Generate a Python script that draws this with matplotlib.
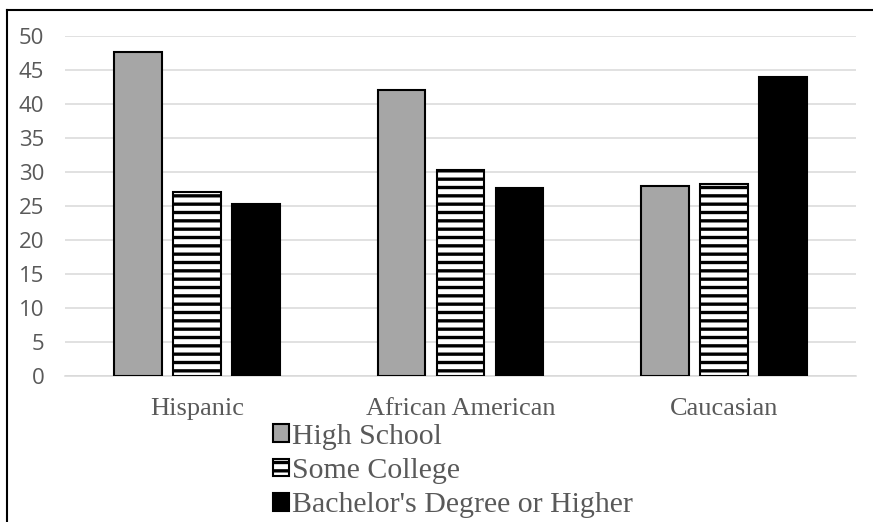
import matplotlib.pyplot as plt
import numpy as np
from matplotlib.lines import Line2D

# Share of each group by highest education level (%)
groups = ['Hispanic', 'African American', 'Caucasian']
high_school = [47.7, 42.0, 27.9]
some_college = [27.0, 30.3, 28.2]
bachelor_plus = [25.2, 27.7, 44.0]
series_names = ['High School', 'Some College', "Bachelor's Degree or Higher"]
y_ticks = [0, 5, 10, 15, 20, 25, 30, 35, 40, 45, 50]

plt.rcParams['hatch.linewidth'] = 2.4

fig = plt.figure(figsize=(8.73, 5.22), dpi=100)
ax = fig.add_axes([65 / 873, 1 - 375.7 / 522, (856 - 65) / 873, (375.7 - 36) / 522])

x = np.arange(len(groups))
width = 0.18
step = 0.224
styles = [
    dict(color='#A6A6A6', hatch=None),
    dict(color='white', hatch='--'),
    dict(color='black', hatch=None),
]
for i, (vals, name, st) in enumerate(zip([high_school, some_college, bachelor_plus], series_names, styles)):
    ax.bar(x + (i - 1) * step, vals, width, color=st['color'], hatch=st['hatch'],
           edgecolor='black', linewidth=1.5, label=name, zorder=3)

ax.set_xlim(-0.5, 2.5)
ax.set_ylim(0, 50)
ax.set_yticks(y_ticks)
ax.set_yticklabels([str(t) for t in y_ticks], family='Open Sans', fontsize=16, color='#595959')
ax.set_xticks(x)
ax.set_xticklabels(groups, family='Liberation Serif', fontsize=19, color='#595959')
ax.tick_params(axis='both', length=0)
ax.tick_params(axis='y', pad=15)
ax.tick_params(axis='x', pad=16)
ax.grid(axis='y', color='#D9D9D9', linewidth=1.1, zorder=0)
for side in ['top', 'right', 'left']:
    ax.spines[side].set_visible(False)
ax.spines['bottom'].set_color('#D9D9D9')
ax.spines['bottom'].set_linewidth(1.1)

leg = fig.legend(loc='upper left', bbox_to_anchor=(273 / 873, 1 - 424 / 522),
                 frameon=False, prop={'family': 'Liberation Serif', 'size': 21.5},
                 handlelength=0.55, handleheight=0.55, handletextpad=0.1,
                 labelspacing=0.27, borderpad=0, borderaxespad=0)
for t in leg.get_texts():
    t.set_color('#595959')

# outer chart border
fig.add_artist(Line2D([7 / 873, 7 / 873], [0, 1 - 10 / 522], color='black', linewidth=1.5))
fig.add_artist(Line2D([7 / 873, 1], [1 - 10 / 522, 1 - 10 / 522], color='black', linewidth=1.5))

fig.savefig('out.png', dpi=100)
